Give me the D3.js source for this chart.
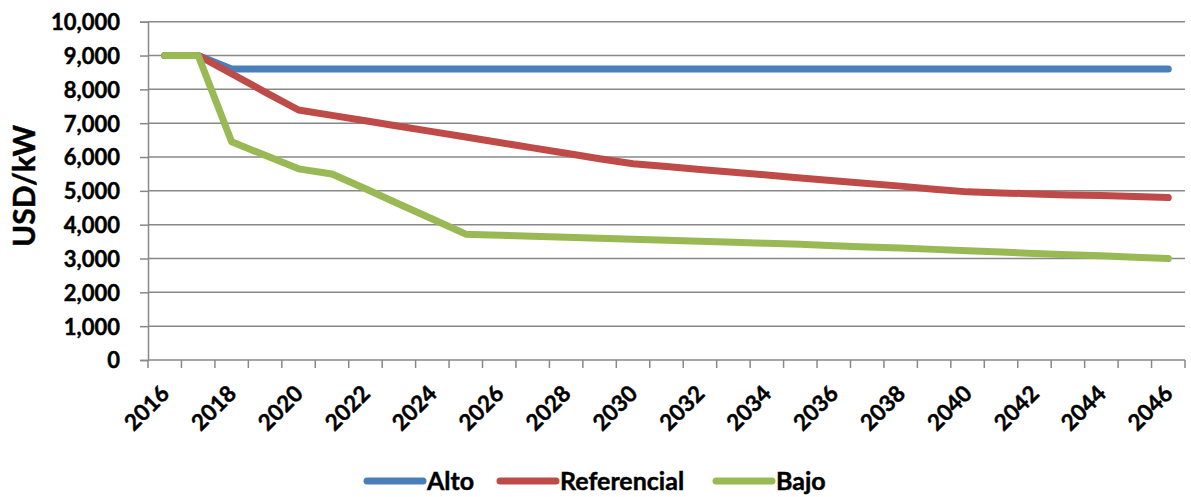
<!DOCTYPE html>
<html>
<head>
<meta charset="utf-8">
<script src="https://cdn.jsdelivr.net/npm/d3@7/dist/d3.min.js"></script>
<style>
  html, body { margin: 0; padding: 0; background: #fff; }
  svg { display: block; font-family: Lato, "Open Sans", sans-serif; font-weight: bold; }
  svg text { stroke: #000; stroke-width: 0.45px; }
</style>
</head>
<body>
<svg id="chart" width="1191" height="497"></svg>
<script>
// Installed-capacity cost projections, USD/kW, 2016–2046
const years = d3.range(2016, 2047);
const alto = [9000, 9000, 8600, 8600, 8600, 8600, 8600, 8600, 8600, 8600,
              8600, 8600, 8600, 8600, 8600, 8600, 8600, 8600, 8600, 8600,
              8600, 8600, 8600, 8600, 8600, 8600, 8600, 8600, 8600, 8600, 8600];
const referencial = [9000, 9000, 8460, 7920, 7390, 7230, 7070, 6910, 6750, 6590,
                     6430, 6270, 6110, 5950, 5800, 5720, 5630, 5550, 5470, 5380,
                     5300, 5220, 5140, 5050, 4970, 4940, 4910, 4880, 4860, 4830, 4800];
const bajo = [9000, 9000, 6450, 6050, 5650, 5500, 5060, 4610, 4170, 3720,
              3690, 3660, 3630, 3600, 3570, 3540, 3510, 3480, 3450, 3420,
              3380, 3340, 3310, 3270, 3230, 3190, 3150, 3110, 3080, 3040, 3000];
const seriesNames = ["Alto", "Referencial", "Bajo"];
const seriesColors = ["#4a7ebb", "#be4b48", "#98b954"];
const yTicks = d3.range(0, 10001, 1000);
const xLabelYears = d3.range(2016, 2047, 2);

const series = [alto, referencial, bajo].map((vals, i) => ({
  name: seriesNames[i], color: seriesColors[i],
  points: years.map((yr, j) => ({ year: yr, value: vals[j] }))
}));

const svg = d3.select("#chart");
const plot = { left: 148, right: 1185, top: 21.7, bottom: 360 };

const x = d3.scaleBand().domain(years).range([plot.left, plot.right]).padding(0);
const y = d3.scaleLinear().domain([0, 10000]).range([plot.bottom, plot.top]);
const xc = yr => x(yr) + x.bandwidth() / 2;

// horizontal gridlines
svg.append("g")
  .selectAll("line")
  .data(yTicks.filter(d => d > 0))
  .join("line")
  .attr("x1", plot.left).attr("x2", plot.right)
  .attr("y1", d => y(d)).attr("y2", d => y(d))
  .attr("stroke", "#888").attr("stroke-width", 1.5);

// y axis
const yAxis = svg.append("g")
  .attr("transform", `translate(${plot.left},0)`)
  .call(d3.axisLeft(y).tickValues(yTicks).tickSize(8).tickPadding(20)
    .tickFormat(d3.format(",")));
yAxis.select(".domain").attr("stroke", "#888").attr("stroke-width", 1.5);
yAxis.selectAll(".tick line").attr("stroke", "#888").attr("stroke-width", 1.5);
yAxis.selectAll(".tick text")
  .attr("font-size", 22).attr("font-family", "Lato, sans-serif")
  .attr("font-weight", "bold").attr("fill", "#000").attr("dy", "0.36em");

// x axis: ticks on category boundaries
const xg = svg.append("g");
xg.append("line")
  .attr("x1", plot.left).attr("x2", plot.right)
  .attr("y1", plot.bottom).attr("y2", plot.bottom)
  .attr("stroke", "#888").attr("stroke-width", 1.5);
xg.selectAll("line.tk")
  .data(years.concat([2047]))
  .join("line").attr("class", "tk")
  .attr("x1", d => d === 2047 ? plot.right : x(d))
  .attr("x2", d => d === 2047 ? plot.right : x(d))
  .attr("y1", plot.bottom).attr("y2", plot.bottom + 8)
  .attr("stroke", "#888").attr("stroke-width", 1.5);
xg.selectAll("text")
  .data(xLabelYears)
  .join("text")
  .attr("transform", d => `translate(${xc(d) + 6},${plot.bottom + 35}) rotate(-45)`)
  .attr("text-anchor", "end")
  .attr("font-size", 22.5)
  .attr("fill", "#000")
  .text(d => d);

// y axis title
svg.append("text")
  .attr("transform", `translate(35,186) rotate(-90)`)
  .attr("text-anchor", "middle")
  .attr("font-size", 30)
  .attr("fill", "#000")
  .text("USD/kW");

// series lines
const line = d3.line().x(d => xc(d.year)).y(d => y(d.value));
svg.append("g")
  .selectAll("path")
  .data(series)
  .join("path")
  .attr("d", d => line(d.points))
  .attr("fill", "none")
  .attr("stroke", d => d.color)
  .attr("stroke-width", 7)
  .attr("stroke-linecap", "round")
  .attr("stroke-linejoin", "round");

// legend
const legendX = [367, 500, 716];
const leg = svg.append("g")
  .selectAll("g")
  .data(series)
  .join("g")
  .attr("transform", (d, i) => `translate(${legendX[i]},481)`);
leg.append("line")
  .attr("x1", 0).attr("x2", 56)
  .attr("stroke", d => d.color).attr("stroke-width", 7)
  .attr("stroke-linecap", "round");
leg.append("text")
  .attr("x", 60).attr("dy", "0.36em")
  .attr("font-size", 25).attr("fill", "#000")
  .text(d => d.name);
</script>
</body>
</html>
